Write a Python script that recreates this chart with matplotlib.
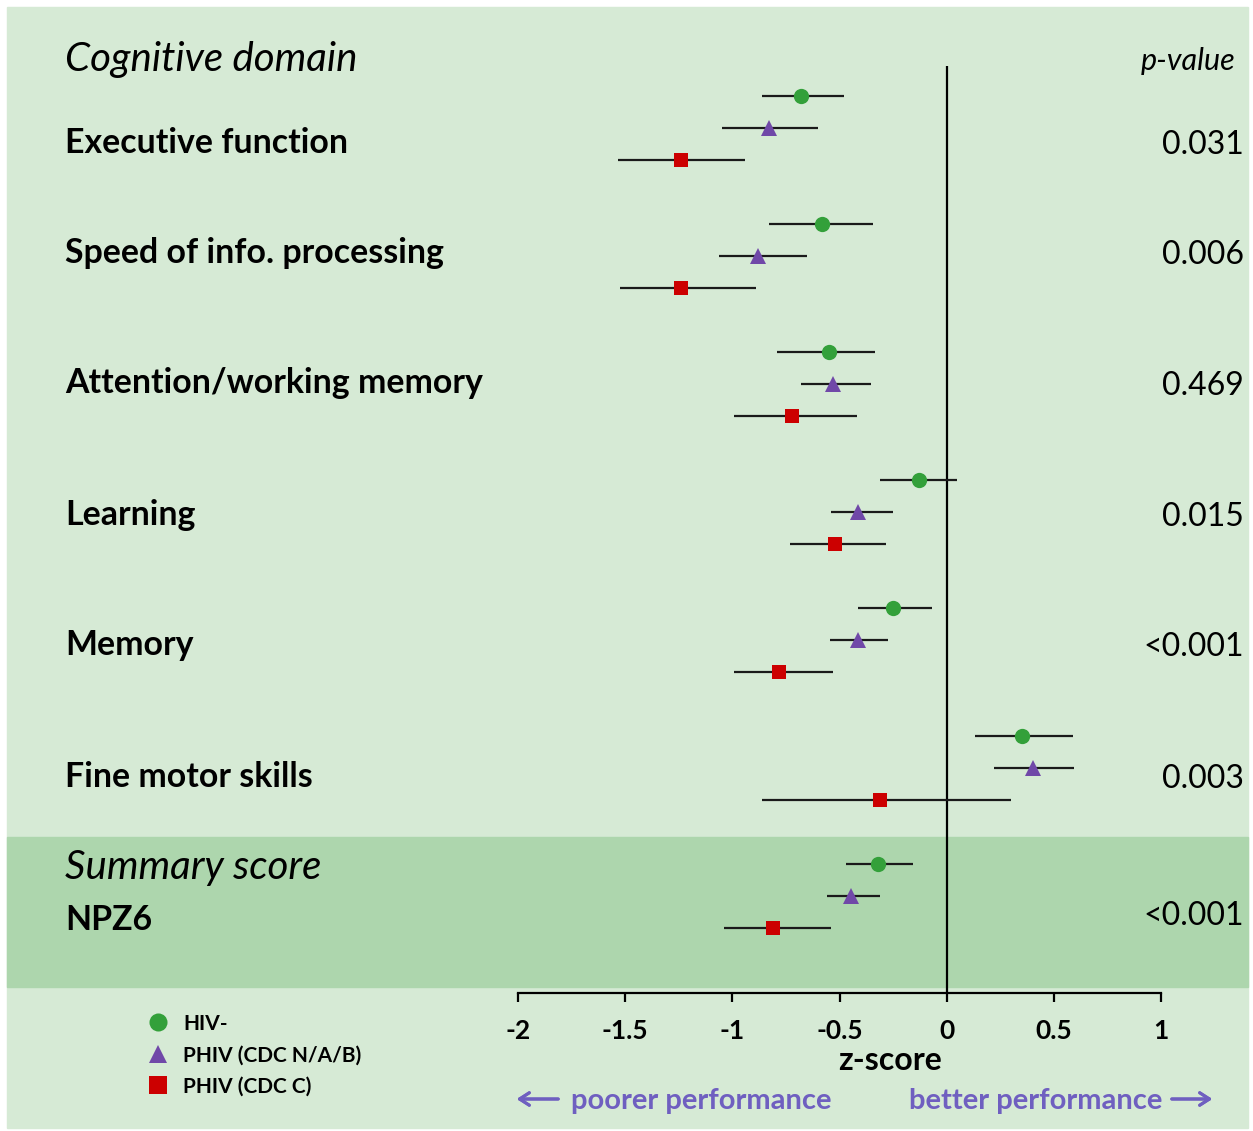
import matplotlib
matplotlib.use('Agg')
import matplotlib.pyplot as plt
from matplotlib.patches import Rectangle
from matplotlib.lines import Line2D

# data: mean z-score and 95% CI per domain, per group
domains = ['Executive function', 'Speed of info. processing', 'Attention/working memory',
           'Learning', 'Memory', 'Fine motor skills', 'NPZ6']
p_values = ['0.031', '0.006', '0.469', '0.015', '<0.001', '0.003', '<0.001']
groups = ['HIV-', 'PHIV (CDC N/A/B)', 'PHIV (CDC C)']

hiv_neg_mean = [-0.68, -0.58, -0.55, -0.13, -0.25, 0.35, -0.32]
hiv_neg_lo = [-0.86, -0.83, -0.79, -0.31, -0.415, 0.13, -0.47]
hiv_neg_hi = [-0.48, -0.345, -0.335, 0.05, -0.07, 0.59, -0.155]

phiv_nab_mean = [-0.83, -0.88, -0.53, -0.415, -0.415, 0.405, -0.445]
phiv_nab_lo = [-1.05, -1.06, -0.68, -0.54, -0.545, 0.22, -0.56]
phiv_nab_hi = [-0.60, -0.65, -0.355, -0.25, -0.275, 0.595, -0.31]

phiv_c_mean = [-1.24, -1.24, -0.72, -0.52, -0.78, -0.31, -0.81]
phiv_c_lo = [-1.535, -1.525, -0.99, -0.73, -0.99, -0.86, -1.04]
phiv_c_hi = [-0.94, -0.89, -0.42, -0.285, -0.53, 0.30, -0.54]

xticks = [-2, -1.5, -1, -0.5, 0, 0.5, 1]

# layout (pixels)
W, H = 1253, 1131
light = '#d6ead5'
dark = '#add6ad'
purple_txt = '#6f5fc0'
colors = ['#33a03a', '#7048a8', '#cc0000']
markers = ['o', '^', 's']
msizes = [11, 11, 10.5]

plt.rcParams['font.family'] = ['Lato', 'DejaVu Sans']
plt.rcParams['axes.unicode_minus'] = False

fig = plt.figure(figsize=(W / 100, H / 100), dpi=100)
fig.patch.set_facecolor('white')
fig.patches.append(Rectangle((7 / W, 1 - 1128 / H), 1241 / W, 1121 / H,
                             transform=fig.transFigure, color=light, zorder=-10))
fig.patches.append(Rectangle((7 / W, 1 - 987 / H), 1241 / W, 150 / H,
                             transform=fig.transFigure, color=dark, zorder=-9))

ax_top, ax_bot, row0, pitch = 66, 993, 96, 32
ax = fig.add_axes([518 / W, 1 - ax_bot / H, 643 / W, (ax_bot - ax_top) / H])
ax.set_facecolor('none')
ax.set_xlim(-2, 1)
ax.set_ylim((ax_bot - row0) / pitch, (ax_top - row0) / pitch)

series = [(hiv_neg_mean, hiv_neg_lo, hiv_neg_hi),
          (phiv_nab_mean, phiv_nab_lo, phiv_nab_hi),
          (phiv_c_mean, phiv_c_lo, phiv_c_hi)]
for s, (m, lo, hi) in enumerate(series):
    ys = [g * 4 + s for g in range(len(domains))]
    err = [[mi - l for mi, l in zip(m, lo)], [h - mi for mi, h in zip(m, hi)]]
    ax.errorbar(m, ys, xerr=err, fmt='none', ecolor='#1a1a1a', elinewidth=1.6,
                capsize=0, zorder=2)
    ax.plot(m, ys, linestyle='none', marker=markers[s], markersize=msizes[s],
            color=colors[s], markeredgewidth=0, zorder=3)

ax.axvline(0, color='black', lw=1.6, zorder=1)
for sp in ['top', 'left', 'right']:
    ax.spines[sp].set_visible(False)
ax.spines['bottom'].set_linewidth(1.6)
ax.set_yticks([])
ax.set_xticks(xticks)
ax.set_xticklabels([f'{t:g}' for t in xticks], fontsize=19, fontweight='bold')
ax.tick_params(axis='x', direction='out', length=6.5, width=1.6, pad=12)


def px(x, y):
    return x / W, 1 - y / H


fig.text(*px(65, 59), 'Cognitive domain', fontsize=29, style='italic', va='center')
fig.text(*px(1235, 61), 'p-value', fontsize=22, style='italic', va='center', ha='right')
label_y = [143, 253, 383, 515, 645, 777, 920]
pval_y = [145, 255, 386, 517, 647, 779, 916]
for name, ly, p, py in zip(domains, label_y, p_values, pval_y):
    fig.text(*px(65, ly), name, fontsize=24.4, fontweight='bold', va='center')
    fig.text(*px(1244, py), p, fontsize=23, va='center', ha='right')
fig.text(*px(65, 868), 'Summary score', fontsize=29, style='italic', va='center')

fig.text(*px(890, 1061), 'z-score', fontsize=23, fontweight='bold', va='center', ha='center')
fig.text(*px(571, 1101), 'poorer performance', fontsize=21, fontweight='bold',
         va='center', color=purple_txt)
fig.text(*px(1162, 1101), 'better performance', fontsize=21, fontweight='bold',
         va='center', ha='right', color=purple_txt)
arrow = dict(arrowstyle='->,head_length=0.7,head_width=0.45', color=purple_txt, lw=2.2)
fig.add_artist(plt.annotate('', xy=px(514, 1099), xytext=px(561, 1099),
                            xycoords='figure fraction', arrowprops=arrow))
fig.add_artist(plt.annotate('', xy=px(1215, 1099), xytext=px(1169, 1099),
                            xycoords='figure fraction', arrowprops=arrow))

handles = [Line2D([], [], linestyle='none', marker=markers[i], color=colors[i],
                  markersize=13, markeredgewidth=0) for i in range(3)]
leg = fig.legend(handles, groups, loc='upper left', bbox_to_anchor=px(129, 995),
                 frameon=False, prop={'size': 15, 'weight': 'bold'},
                 handlelength=1, handletextpad=0.7, labelspacing=0.55)

fig.savefig('out.png', dpi=100)
